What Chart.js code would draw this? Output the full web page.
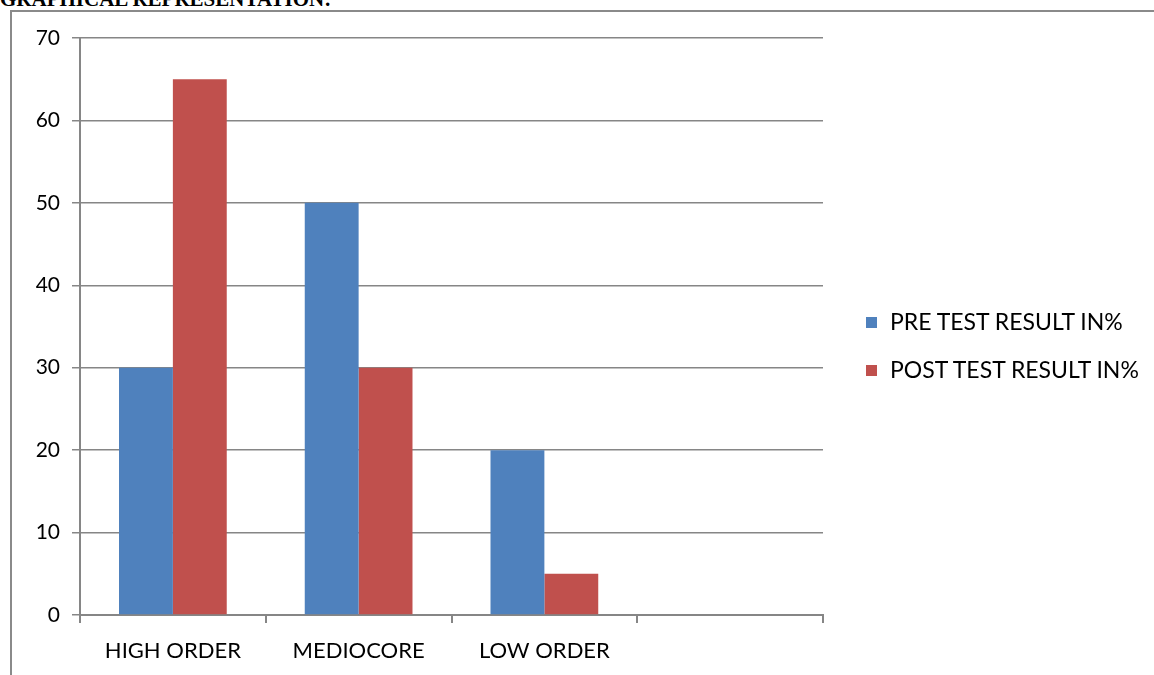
<!DOCTYPE html>
<html>
<head>
<meta charset="utf-8">
<script src="https://cdn.jsdelivr.net/npm/chart.js@4.4.1/dist/chart.umd.min.js"></script>
<style>
  body { margin: 0; background: #fff; width: 1154px; height: 675px; overflow: hidden; position: relative; font-family: Lato, "Open Sans", sans-serif; }
  #titre { position: absolute; left: 0; top: -13px; font: bold 21px/24px "Liberation Serif", serif; color: #000; white-space: nowrap; }
  #cadre { position: absolute; left: 10px; top: 10px; width: 1160px; height: 700px; border-left: 2px solid #8a8a8a; border-top: 2px solid #8a8a8a; background: transparent; }
  #grafik { position: absolute; left: 0; top: 0; }
  .lejant { position: absolute; left: 866px; font-size: 23px; color: #000; white-space: nowrap; }
  .lejant span { display: inline-block; width: 11px; height: 11px; margin-right: 13px; vertical-align: 2px; }
</style>
</head>
<body>
<div id="titre">GRAPHICAL REPRESENTATION:</div>
<div id="cadre"></div>
<canvas id="grafik" width="1154" height="675"></canvas>
<div class="lejant" style="top:307px"><span style="background:#4F81BD"></span>PRE TEST RESULT IN%</div>
<div class="lejant" style="top:355px"><span style="background:#C0504D"></span>POST TEST RESULT IN%</div>
<script>
const kategoriler = ['HIGH ORDER', 'MEDIOCORE', 'LOW ORDER', ''];
const onTest = [30, 50, 20, null];
const sonTest = [65, 30, 5, null];
const eksenRengi = '#868686';

// Grafiği çiz
const ctx = document.getElementById('grafik').getContext('2d');
new Chart(ctx, {
    type: 'bar',
    data: {
        labels: kategoriler,
        datasets: [
            { label: 'PRE TEST RESULT IN%', data: onTest, backgroundColor: '#4F81BD' },
            { label: 'POST TEST RESULT IN%', data: sonTest, backgroundColor: '#C0504D' }
        ]
    },
    options: {
        responsive: false,
        animation: false,
        categoryPercentage: 0.58,
        barPercentage: 1,
        layout: { padding: { left: 20, top: 38, right: 331, bottom: 0 } },
        plugins: { legend: { display: false }, tooltip: { enabled: false } },
        scales: {
            y: {
                min: 0, max: 70,
                ticks: { stepSize: 10, color: '#000', font: { family: 'Lato', size: 21 }, padding: 12 },
                grid: { color: eksenRengi, lineWidth: 1.5, tickLength: 8 },
                border: { color: eksenRengi, width: 2 },
                afterFit: s => { s.width = 60; }
            },
            x: {
                ticks: { color: '#000', font: { family: 'Lato', size: 22 }, padding: 15 },
                grid: { drawOnChartArea: false, color: eksenRengi, lineWidth: 2, tickLength: 8 },
                border: { color: eksenRengi, width: 2 },
                afterFit: s => { s.height = 60; }
            }
        }
    }
});
</script>
</body>
</html>
